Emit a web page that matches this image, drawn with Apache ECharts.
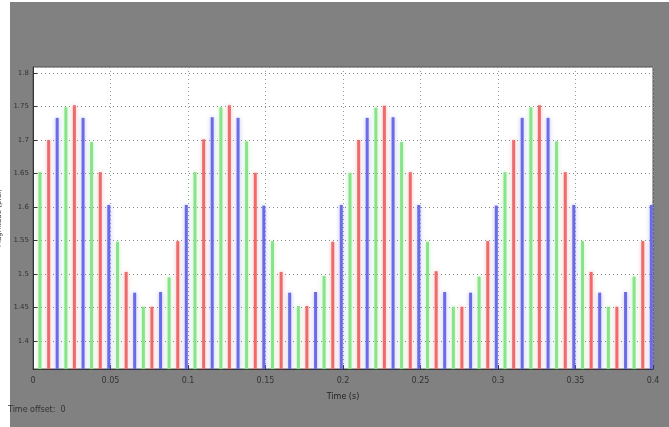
<!DOCTYPE html>
<html>

<head>
    <meta charset="utf-8">
</head>

<body style="margin: 0">
    <div id="container" style="height:427px;width:669px"></div>
    <script type="text/javascript" src="https://cdn.jsdelivr.net/npm/echarts@6/dist/echarts.min.js"></script>
    <script type="text/javascript">
        // x tick labels (s)
        var timeTicks = ['0', '0.05', '0.1', '0.15', '0.2', '0.25', '0.3', '0.35', '0.4'];

        // sample times of each phase (s)
        var greenT = [0.0045, 0.0212, 0.0378, 0.0545, 0.0712, 0.0878,
            0.1045, 0.1212, 0.1378, 0.1545, 0.1712, 0.1878,
            0.2045, 0.2212, 0.2378, 0.2545, 0.2712, 0.2878,
            0.3045, 0.3212, 0.3378, 0.3545, 0.3712, 0.3878];
        var redT = [0.0101, 0.0267, 0.0434, 0.0601, 0.0767, 0.0934,
            0.1101, 0.1267, 0.1434, 0.1601, 0.1767, 0.1934,
            0.2101, 0.2267, 0.2434, 0.2601, 0.2767, 0.2934,
            0.3101, 0.3267, 0.3434, 0.3601, 0.3767, 0.3934];
        var blueT = [0.0156, 0.0323, 0.0489, 0.0656, 0.0823, 0.0989,
            0.1156, 0.1323, 0.1489, 0.1656, 0.1823, 0.1989,
            0.2156, 0.2323, 0.2489, 0.2656, 0.2823, 0.2989,
            0.3156, 0.3323, 0.3489, 0.3656, 0.3823, 0.3989];

        // peak magnitudes read from the scope
        var greenV = [1.652, 1.749, 1.697, 1.548, 1.451, 1.495,
            1.652, 1.749, 1.698, 1.549, 1.452, 1.497,
            1.651, 1.748, 1.697, 1.548, 1.451, 1.496,
            1.652, 1.749, 1.698, 1.549, 1.451, 1.496];
        var redV = [1.700, 1.752, 1.652, 1.503, 1.451, 1.549,
            1.701, 1.752, 1.651, 1.503, 1.452, 1.548,
            1.700, 1.751, 1.652, 1.504, 1.451, 1.549,
            1.700, 1.752, 1.652, 1.503, 1.451, 1.549];
        var blueV = [1.733, 1.733, 1.603, 1.472, 1.473, 1.603,
            1.734, 1.733, 1.602, 1.472, 1.473, 1.603,
            1.733, 1.734, 1.603, 1.473, 1.472, 1.602,
            1.733, 1.733, 1.603, 1.472, 1.473, 1.603];

        function pairs(t, v) {
            var out = [];
            for (var i = 0; i < t.length; i++) out.push([t[i], v[i]]);
            return out;
        }

        var dom = document.getElementById("container");
        var myChart = echarts.init(dom);
        var option = {
            backgroundColor: '#fff',
            animation: false,
            graphic: [{
                type: 'rect',
                shape: { x: 10, y: 2, width: 659, height: 425 },
                style: { fill: '#818181' },
                z: -10
            }, {
                type: 'text',
                left: 8,
                top: 406,
                style: { text: 'Time offset:  0', fontSize: 8, fill: '#333', fontFamily: 'DejaVu Sans' }
            }],
            grid: {
                left: 33,
                right: 16,
                top: 67,
                bottom: 58,
                containLabel: false,
                outerBoundsMode: 'none',
                show: true,
                backgroundColor: '#fff',
                borderColor: '#555',
                borderWidth: 1
            },
            xAxis: {
                type: 'value',
                min: 0,
                max: 0.4,
                interval: 0.05,
                name: 'Time (s)',
                nameLocation: 'middle',
                nameGap: 24,
                nameTextStyle: { fontSize: 8, color: '#222', fontFamily: 'DejaVu Sans' },
                axisLine: { show: true, lineStyle: { color: '#333' } },
                axisTick: { inside: true, length: 4, lineStyle: { color: '#333' } },
                axisLabel: {
                    fontSize: 8,
                    color: '#333',
                    fontFamily: 'DejaVu Sans',
                    margin: 8,
                    formatter: function (v) {
                        return timeTicks[Math.round(v / 0.05)];
                    }
                },
                splitLine: { show: true, lineStyle: { color: '#999', type: [1, 3] } }
            },
            yAxis: {
                type: 'value',
                min: 1.358,
                max: 1.809,
                splitNumber: 9,
                name: 'Magnitude (p.u.)',
                nameLocation: 'middle',
                nameGap: 25,
                nameTextStyle: { fontSize: 7, color: '#333', fontFamily: 'DejaVu Sans' },
                axisLine: { show: true, lineStyle: { color: '#333' } },
                axisTick: { inside: true, length: 4, lineStyle: { color: '#333' } },
                axisLabel: {
                    fontSize: 7,
                    color: '#333',
                    fontFamily: 'DejaVu Sans',
                    margin: 4,
                    showMinLabel: false,
                    showMaxLabel: false
                },
                splitLine: { show: true, lineStyle: { color: '#888', type: [1, 3] } }
            },
            series: [{
                name: 'green',
                type: 'bar',
                barWidth: 3,
                clip: true,
                itemStyle: { color: '#88e488', shadowBlur: 4, shadowColor: 'rgba(136,228,136,0.5)' },
                data: pairs(greenT, greenV)
            }, {
                name: 'red',
                type: 'bar',
                barWidth: 3,
                barGap: '-100%',
                clip: true,
                itemStyle: { color: '#ee6b6b', shadowBlur: 4, shadowColor: 'rgba(238,107,107,0.45)' },
                data: pairs(redT, redV)
            }, {
                name: 'blue',
                type: 'bar',
                barWidth: 3,
                barGap: '-100%',
                clip: true,
                itemStyle: { color: '#6b6be8', shadowBlur: 4, shadowColor: 'rgba(107,107,232,0.45)' },
                data: pairs(blueT, blueV)
            }]
        };
        myChart.setOption(option, true);
    </script>
</body>

</html>
